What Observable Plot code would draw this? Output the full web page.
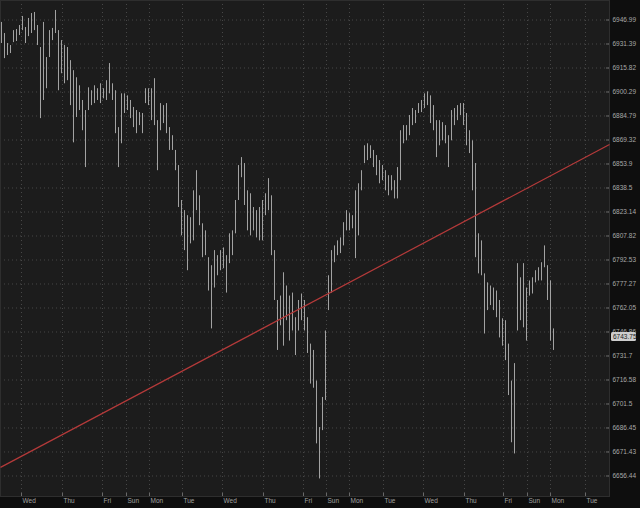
<!DOCTYPE html>
<html><head><meta charset="utf-8">
<script src="https://cdn.jsdelivr.net/npm/d3@7"></script>
<script src="https://cdn.jsdelivr.net/npm/@observablehq/plot@0.6"></script>
<style>html,body{margin:0;padding:0;background:#0e0e0e;overflow:hidden}#chart svg{display:block}</style>
</head><body><div id="chart"></div>
<script>
// Hourly-ish price bars (high / low)
const highs = [
6945.4,6938.2,6931.7,6930.4,6940.1,6940.8,6943.4,6949.3,6942.1,6948.0,
6951.2,6951.9,6943.4,6929.1,6945.4,6922.6,6940.1,6941.5,6953.2,6940.1,
6933.6,6930.4,6929.1,6920.6,6914.1,6909.5,6904.3,6894.8,6888.3,6903.0,
6901.1,6904.3,6902.4,6905.6,6902.4,6907.6,6918.7,6905.6,6901.1,6877.3,
6899.1,6899.1,6897.8,6894.8,6890.3,6888.3,6887.0,6886.4,6902.4,6902.4,
6902.4,6908.9,6881.8,6892.8,6891.5,6892.8,6877.3,6872.1,6862.6,6852.9,
6830.5,6824.0,6820.8,6819.5,6836.7,6849.6,6833.5,6815.6,6811.1,6794.0,
6788.9,6798.5,6795.3,6798.5,6800.2,6795.3,6809.2,6811.1,6830.5,6852.9,
6858.0,6854.2,6836.7,6834.8,6826.0,6824.0,6826.0,6830.5,6834.8,6844.5,
6833.5,6798.5,6766.8,6769.6,6784.4,6776.0,6769.6,6771.5,6755.9,6766.8,
6770.9,6766.8,6755.9,6739.2,6735.2,6715.9,6686.7,6705.6,6747.5,6782.5,
6798.5,6801.5,6804.7,6806.6,6816.3,6824.0,6822.1,6820.8,6836.7,6841.2,
6849.6,6865.6,6866.9,6865.6,6862.6,6859.3,6856.1,6852.9,6849.6,6846.4,
6846.4,6843.2,6851.6,6875.3,6878.6,6878.6,6885.1,6889.6,6888.3,6892.8,
6894.8,6899.1,6900.4,6897.8,6891.5,6881.8,6881.8,6880.5,6878.6,6872.1,
6888.3,6889.6,6891.5,6892.8,6892.8,6886.4,6875.3,6868.8,6854.2,6809.2,
6804.7,6783.7,6778.0,6776.0,6774.7,6772.8,6766.8,6755.2,6754.0,6739.2,
6715.9,6726.9,6790.2,6781.2,6790.2,6774.7,6779.2,6781.2,6785.7,6787.6,
6790.8,6801.5,6788.9,6779.2,6748.8
];
const lows = [
6931.7,6921.9,6923.9,6925.2,6932.3,6933.0,6936.9,6940.1,6931.7,6936.2,
6938.2,6940.1,6930.4,6883.1,6894.8,6902.4,6922.6,6933.6,6938.2,6901.1,
6912.1,6905.6,6907.6,6891.5,6867.5,6883.8,6888.3,6875.3,6851.6,6888.3,
6891.5,6892.8,6894.8,6892.8,6895.9,6894.8,6899.1,6894.8,6873.4,6851.6,
6866.9,6886.4,6888.3,6883.1,6877.3,6873.4,6878.6,6873.4,6892.8,6891.5,
6881.8,6878.6,6849.6,6875.3,6879.9,6873.4,6862.6,6862.6,6849.6,6826.0,
6807.9,6798.5,6785.7,6802.8,6804.7,6824.0,6814.4,6794.0,6795.3,6772.8,
6748.8,6774.7,6782.5,6785.7,6787.0,6771.5,6790.2,6795.3,6809.2,6830.5,
6845.1,6827.3,6811.1,6807.9,6811.1,6806.6,6804.7,6804.7,6820.8,6824.0,
6795.3,6766.8,6735.2,6750.8,6737.9,6754.0,6741.1,6747.5,6732.0,6747.5,
6754.0,6747.5,6733.3,6714.0,6711.4,6676.5,6654.6,6684.8,6703.7,6760.4,
6771.5,6790.8,6795.3,6796.6,6801.5,6811.1,6811.1,6812.4,6793.4,6807.9,
6836.7,6854.2,6856.1,6857.4,6851.6,6846.4,6841.2,6843.2,6836.7,6833.5,
6836.7,6831.5,6831.5,6843.2,6866.9,6868.8,6872.1,6878.6,6879.9,6886.4,
6887.0,6889.6,6891.5,6879.9,6875.3,6858.0,6865.6,6868.8,6866.9,6851.6,
6868.8,6878.6,6881.8,6885.1,6878.6,6865.6,6860.6,6836.7,6794.0,6783.7,
6782.5,6745.6,6760.4,6763.6,6760.4,6755.9,6743.1,6737.9,6728.8,6706.8,
6677.2,6670.2,6747.5,6754.0,6749.5,6741.1,6769.6,6770.9,6778.0,6779.2,
6779.2,6787.6,6766.8,6741.1,6735.2
];
const lastClose = 6743.75;

const priceTicks = [6946.99,6931.39,6915.82,6900.29,6884.79,6869.32,6853.9,6838.5,6823.14,6807.82,
  6792.53,6777.27,6762.05,6746.86,6731.7,6716.58,6701.5,6686.45,6671.43,6656.44];

const dayTickPos = [6.67,20.33,33.67,41.67,49.33,60.33,73.67,87.33,100.67,108.33,116,127.33,140.67,154.33,167.33,175.33,183,194.67];
const dayLabels = ["Wed","Thu","Fri","Sun","Mon","Tue","Wed","Thu","Fri","Sun","Mon","Tue","Wed","Thu","Fri","Sun","Mon","Tue"];

const trendStart = {i: -0.333, price: 6661.8};
const trendEnd = {i: 202.667, price: 6866.4};

const xDomain = [-0.333, 202.667];
const yDomain = [6643.66, 6959.70];

const bars = highs.map((h, i) => ({i, high: h, low: lows[i]}));
const dayLabelOf = new Map(dayTickPos.map((p, k) => [p, dayLabels[k]]));

const chart = Plot.plot({
  width: 640, height: 508,
  marginLeft: 0, marginRight: 31, marginTop: 0, marginBottom: 12,
  style: {background: "#0e0e0e", fontFamily: "'Liberation Sans', Arial, sans-serif", fontSize: "6.5px", color: "#a8a8a8"},
  x: {domain: xDomain, axis: null, label: null},
  y: {type: "log", domain: yDomain, axis: null, label: null},
  marks: [
    Plot.frame({fill: "#1c1c1c"}),
    Plot.gridY(priceTicks, {stroke: "#474747", strokeOpacity: 1, strokeDasharray: "1,3"}),
    Plot.gridX(dayTickPos, {stroke: "#474747", strokeOpacity: 1, strokeDasharray: "1,3"}),
    Plot.frame({stroke: "#2e2e2e"}),
    Plot.ruleX(bars, {x: "i", y1: "low", y2: "high", stroke: "#a4a4a4", strokeWidth: 1}),
    Plot.link([{a: trendStart, b: trendEnd}], {x1: d => d.a.i, y1: d => d.a.price, x2: d => d.b.i, y2: d => d.b.price, stroke: "#b53a3a", strokeWidth: 1.2}),
    Plot.tickY(priceTicks, {stroke: "#6a6a6a", insetLeft: 606}),
    Plot.axisY(priceTicks, {anchor: "right", label: null, tickSize: 0, tickPadding: 3, tickFormat: d => String(d), fill: "#a8a8a8", fontSize: 6.5}),
    Plot.rect([lastClose], {y1: d => d, y2: d => d, insetTop: -4.5, insetBottom: -4.5, insetLeft: 611, insetRight: -27, fill: "#cdcdcd", rx: 1.5}),
    Plot.text([lastClose], {y: d => d, frameAnchor: "right", dx: 3.5, textAnchor: "start", text: d => d.toFixed(2), fill: "#1a1a1a", fontSize: 6.5}),
    Plot.tickX(dayTickPos, {stroke: "#6a6a6a", insetTop: 493}),
    Plot.axisX(dayTickPos, {anchor: "bottom", label: null, tickSize: 0, tickPadding: 2, textAnchor: "start", dx: 1, tickFormat: d => dayLabelOf.get(d), fill: "#a0a0a0", fontSize: 6.5})
  ]
});
document.getElementById("chart").appendChild(chart);
</script>
</body></html>
